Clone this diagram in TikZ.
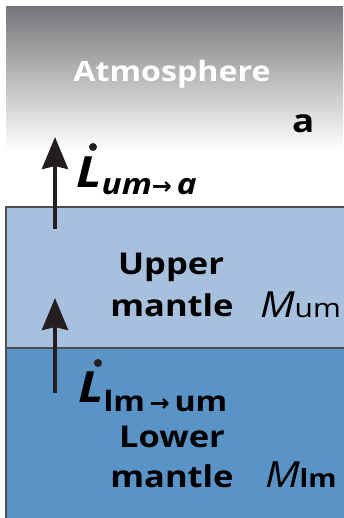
\documentclass[tikz,border=0pt]{standalone}
\usepackage{fontspec}
\setmainfont{Open Sans}[FakeStretch=1.15]
\newfontfamily\djv{DejaVu Sans}
\usetikzlibrary{arrows.meta}
\definecolor{atmgray}{RGB}{118,119,122}
\definecolor{umblue}{RGB}{167,192,222}
\definecolor{lmblue}{RGB}{90,148,199}
\definecolor{edgegray}{RGB}{77,77,79}
\definecolor{arrowblack}{RGB}{35,31,32}
\tikzset{
  lbl/.style={inner sep=0pt, outer sep=0pt},
  layer/.style={draw=edgegray, line width=1.4pt},
  flux/.style={draw=arrowblack, line width=4pt, -{Stealth[length=32pt, width=26pt, inset=3pt]}},
}
\begin{document}
\begin{tikzpicture}[x=1pt,y=1pt]
\useasboundingbox (0,0) rectangle (343,518);
\fill[white] (0,0) rectangle (343,518);
% atmosphere gradient
\shade[top color=atmgray, bottom color=white] (6,368) rectangle (343,511);
% layers
\path[layer, fill=umblue] (6,170) rectangle (346,311);
\path[layer, fill=lmblue] (6,-3) rectangle (346,170);
% texts
\node[lbl, anchor=base, text=white] (atm) at (172,436) {\fontsize{28}{30}\selectfont\bfseries Atmosphere};
\node[lbl, anchor=base west] (a) at (292,385) {\fontsize{32}{34}\selectfont\bfseries a};
\node[lbl, anchor=base] (um) at (171,243) {\fontsize{30}{32}\selectfont\bfseries Upper};
\node[lbl, anchor=base] (um2) at (172,201) {\fontsize{30}{32}\selectfont\bfseries mantle};
\node[lbl, anchor=base] (lm) at (172,70) {\fontsize{30}{32}\selectfont\bfseries Lower};
\node[lbl, anchor=base] (lm2) at (172,30) {\fontsize{30}{32}\selectfont\bfseries mantle};
\node[lbl, anchor=base west] (Mum) at (260,200) {\fontsize{36}{38}\selectfont\itshape M};
\node[lbl, anchor=base west] (Mumsub) at (Mum.base east) {\fontsize{26}{28}\selectfont um};
\node[lbl, anchor=base west] (Mlm) at (265,30) {\fontsize{36}{38}\selectfont\itshape M};
\node[lbl, anchor=base west] (Mlmsub) at (Mlm.base east) {\fontsize{25}{27}\selectfont\bfseries lm};
% fluxes
\node[lbl, anchor=base west] (L1) at (76,330) {\fontsize{43}{45}\selectfont\bfseries\itshape L};
\node[lbl, anchor=base west] (L1sub) at ([yshift=-7pt]L1.base east) {\fontsize{29}{31}\selectfont\bfseries\itshape um{\djv\fontsize{24}{26}\selectfont →}\,a};
\node[lbl, anchor=base west] (L2) at (78,115) {\fontsize{43}{45}\selectfont\bfseries\itshape L};
\node[lbl, anchor=base west] (L2sub) at ([yshift=-9pt]L2.base east) {\fontsize{28}{30}\selectfont\bfseries lm\,{\djv\fontsize{24}{26}\selectfont →}\,um};
\fill[arrowblack] (93,371) circle (4);
\fill[arrowblack] (98,155) circle (4);
\coordinate (f1s) at (55,289);
\coordinate (f1e) at (55,381);
\coordinate (f2s) at (55,125);
\coordinate (f2e) at (55,220);
\draw[flux] (f1s) -- (f1e);
\draw[flux] (f2s) -- (f2e);
\end{tikzpicture}
\end{document}
